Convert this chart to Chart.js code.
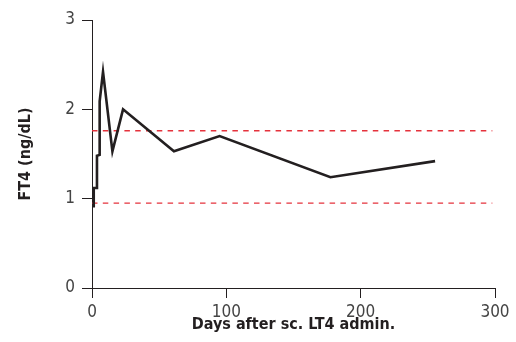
<!DOCTYPE html>
<html>
<head>
<meta charset="utf-8">
<script src="https://cdn.jsdelivr.net/npm/chart.js@4.4.0/dist/chart.umd.min.js"></script>
<style>
  html, body { margin: 0; padding: 0; background: #fff; }
  canvas { display: block; }
</style>
</head>
<body>
<canvas id="grafico" width="516" height="342"></canvas>
<script>
// Datos
const dias = [1.3, 1.3, 3.7, 3.7, 5.7, 5.7, 8.2, 15.2, 23.1, 61, 95, 177.5, 255.4];
const ft4 = [0.90, 1.12, 1.12, 1.48, 1.49, 2.09, 2.42, 1.53, 2.00, 1.53, 1.70, 1.24, 1.42];

// Limites del rango de referencia
const rangoX = [0, 298];
const limiteSuperior = [1.76, 1.76];
const limiteInferior = [0.95, 0.95];

// Etiquetas de los ejes
const ticksX = [0, 100, 200, 300];
const ticksY = [0, 1, 2, 3];

const fuente = "'DejaVu Sans Condensed', 'Liberation Sans', sans-serif";
const colorEje = '#231f20';

function crearGrafico() {
    const ctx = document.getElementById('grafico').getContext('2d');
    new Chart(ctx, {
        type: 'line',
        data: {
            datasets: [
                {
                    label: 'FT4',
                    data: dias.map((d, i) => ({ x: d, y: ft4[i] })),
                    borderColor: '#231f20',
                    borderWidth: 2.6,
                    borderJoinStyle: 'miter',
                    pointRadius: 0,
                    tension: 0,
                    fill: false
                },
                {
                    label: 'Limite superior',
                    data: rangoX.map((d, i) => ({ x: d, y: limiteSuperior[i] })),
                    borderColor: '#e5323c',
                    borderWidth: 1.4,
                    borderDash: [5.5, 5.3],
                    pointRadius: 0,
                    fill: false
                },
                {
                    label: 'Limite inferior',
                    data: rangoX.map((d, i) => ({ x: d, y: limiteInferior[i] })),
                    borderColor: '#e5323c',
                    borderWidth: 1.4,
                    borderDash: [5.5, 5.3],
                    pointRadius: 0,
                    fill: false
                }
            ]
        },
        options: {
            responsive: false,
            animation: false,
            layout: { padding: { top: 20, right: 21, left: 0, bottom: 0 } },
            plugins: {
                legend: { display: false },
                tooltip: { enabled: false }
            },
            scales: {
                x: {
                    type: 'linear',
                    min: ticksX[0],
                    max: ticksX[ticksX.length - 1],
                    afterFit: (scale) => { scale.height = 54; },
                    grid: { display: true, drawOnChartArea: false, drawTicks: true, tickLength: 10, color: colorEje, tickColor: colorEje, lineWidth: 1, tickWidth: 1 },
                    border: { display: true, color: colorEje, width: 1 },
                    ticks: {
                        stepSize: 100,
                        padding: 4,
                        color: '#444',
                        font: { family: fuente, size: 17 },
                        callback: (v) => ticksX.includes(v) ? String(v) : ''
                    },
                    title: {
                        display: true,
                        text: 'Days after sc. LT4 admin.',
                        color: '#231f20',
                        font: { family: fuente, size: 16, weight: 'bold' },
                        padding: { top: 0, bottom: 8 }
                    }
                },
                y: {
                    type: 'linear',
                    min: ticksY[0],
                    max: ticksY[ticksY.length - 1],
                    afterFit: (scale) => { scale.width = 92; },
                    grid: { display: true, drawOnChartArea: false, drawTicks: true, tickLength: 10, color: colorEje, tickColor: colorEje, lineWidth: 1, tickWidth: 1 },
                    border: { display: true, color: colorEje, width: 1 },
                    ticks: {
                        stepSize: 1,
                        padding: 7,
                        color: '#444',
                        font: { family: fuente, size: 17 },
                        callback: (v) => ticksY.includes(v) ? String(v) : ''
                    },
                    title: {
                        display: true,
                        text: 'FT4 (ng/dL)',
                        color: '#231f20',
                        font: { family: fuente, size: 16, weight: 'bold' },
                        padding: { top: 16, bottom: 0 }
                    }
                }
            }
        }
    });
}

document.addEventListener('DOMContentLoaded', function() {
    crearGrafico();
});
</script>
</body>
</html>
